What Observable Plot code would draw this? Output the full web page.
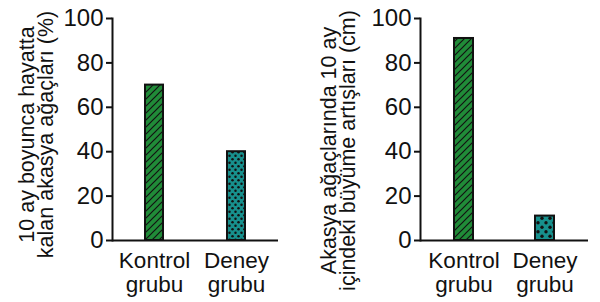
<!DOCTYPE html>
<html><head><meta charset="utf-8">
<script src="https://cdn.jsdelivr.net/npm/d3@7"></script>
<script src="https://cdn.jsdelivr.net/npm/@observablehq/plot@0.6"></script>
<style>
body{margin:0;background:#fff;}
#wrap{display:flex;width:600px;height:302px;overflow:hidden;}
#wrap > svg{flex:none;}
</style></head><body><div id="wrap"></div>
<script>
const groups = ["Kontrol grubu", "Deney grubu"];
const survival = [70, 40];
const growth = [91, 11];
const yTicks = [0, 20, 40, 60, 80, 100];
const titleLeft = "10 ay boyunca hayatta\nkalan akasya ağaçları (%)";
const titleRight = "Akasya ağaçlarında 10 ay\niçindeki büyüme artışları (cm)";
const green = "#208b38";
const teal = "#17908d";

function makeDefs(prefix, dot) {
  return () => {
    const defs = d3.create("svg:defs");
    const h = defs.append("pattern").attr("id", prefix + "hatch").attr("patternUnits", "userSpaceOnUse")
      .attr("width", 7).attr("height", 7);
    h.append("rect").attr("width", 7).attr("height", 7).attr("fill", green);
    h.append("path").attr("d", "M-1,8L8,-1M-1,1L1,-1M6,8L8,6").attr("stroke", "#111").attr("stroke-width", 1.2);
    const p = defs.append("pattern").attr("id", prefix + "dots").attr("patternUnits", "userSpaceOnUse")
      .attr("width", dot.w).attr("height", dot.h);
    p.append("rect").attr("width", dot.w).attr("height", dot.h).attr("fill", teal);
    p.append("circle").attr("cx", dot.w / 4).attr("cy", dot.h / 4).attr("r", dot.r).attr("fill", "#111");
    p.append("circle").attr("cx", 3 * dot.w / 4).attr("cy", 3 * dot.h / 4).attr("r", dot.r).attr("fill", "#111");
    return defs.node();
  };
}

function panel(values, title, prefix, o) {
  const data = groups.map((g, i) => ({group: g, value: values[i]}));
  return Plot.plot({
    width: 300, height: 302,
    marginLeft: o.ml, marginRight: o.mr, marginTop: 18, marginBottom: 62,
    style: {fontFamily: "'Liberation Sans', Arial, sans-serif", color: "#111", background: "transparent", overflow: "visible"},
    x: {domain: groups, paddingInner: o.pi, paddingOuter: o.po, label: null, axis: null},
    y: {domain: [0, 100], label: null, axis: null},
    marks: [
      makeDefs(prefix, o.dot),
      Plot.barY(data.slice(0, 1), {x: "group", y: "value", fill: `url(#${prefix}hatch)`, stroke: "#111", strokeWidth: 2}),
      Plot.barY(data.slice(1, 2), {x: "group", y: "value", fill: `url(#${prefix}dots)`, stroke: "#111", strokeWidth: 2}),
      Plot.frame({anchor: "left", strokeWidth: 2, stroke: "#111"}),
      Plot.ruleY([0], {strokeWidth: 2, stroke: "#111"}),
      Plot.axisY({ticks: yTicks, tickSize: 6, tickPadding: 3, fontSize: 24, strokeWidth: 2, label: null}),
      Plot.axisX({tickSize: 0, tickPadding: 11, fontSize: 22.5, lineHeight: 1.04, label: null,
        tickFormat: d => d.replace(" ", "\n")}),
      Plot.text([title], {frameAnchor: "left", textAnchor: "middle", lineAnchor: "middle", rotate: -90,
        dx: o.tdx, dy: o.tdy, fontSize: 21.5, lineHeight: 0.88, fill: "#111"})
    ]
  });
}

const wrap = document.getElementById("wrap");
wrap.append(panel(survival, titleLeft, "a", {ml: 112, mr: 22, pi: 0.78, po: 0.4, tdx: -75, tdy: 5, dot: {w: 6, h: 7, r: 1.25}}));
wrap.append(panel(growth, titleRight, "b", {ml: 120, mr: 12, pi: 0.77, po: 0.41, tdx: -81, tdy: 21, dot: {w: 8, h: 9, r: 1.7}}));
</script></body></html>
